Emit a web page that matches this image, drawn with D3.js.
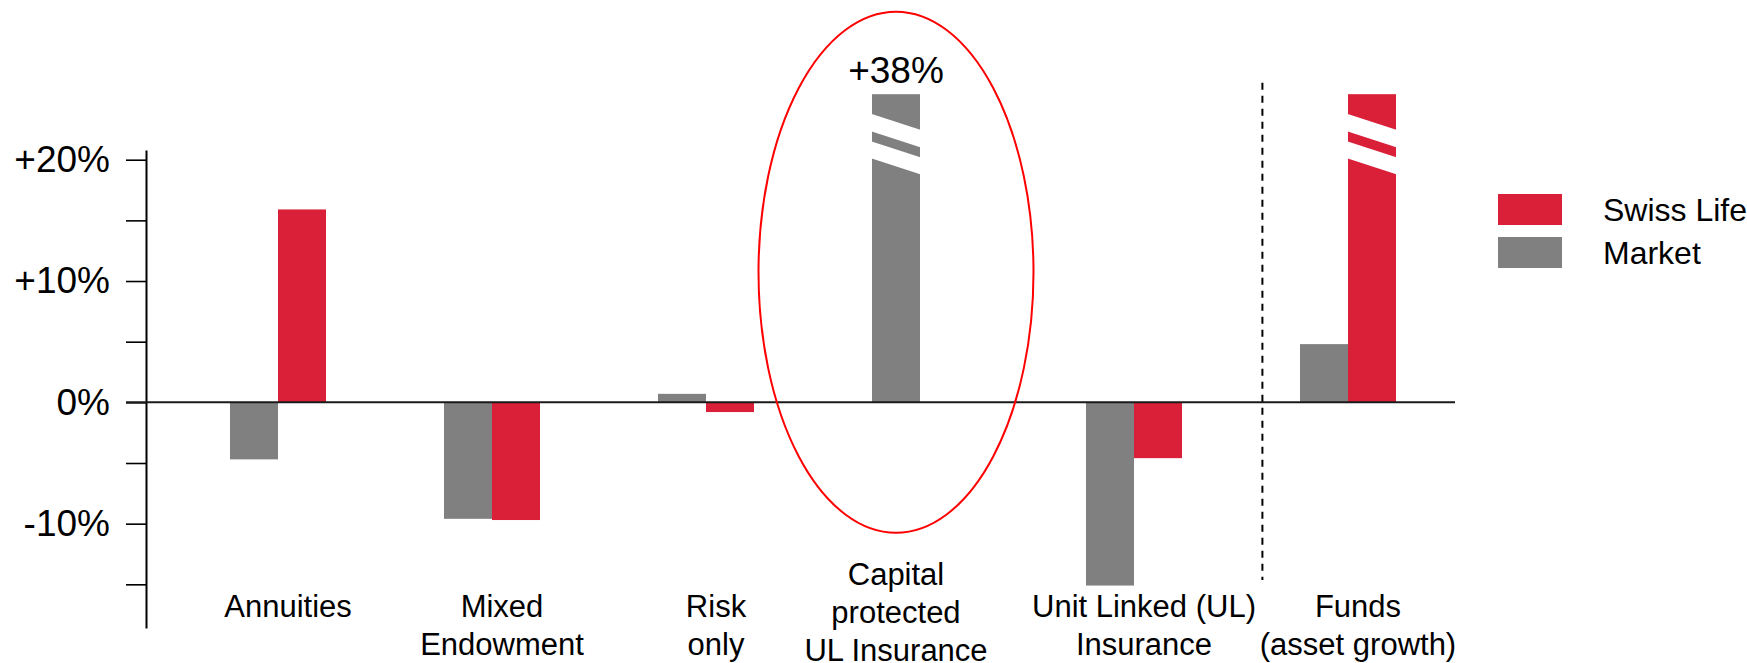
<!DOCTYPE html>
<html>
<head>
<meta charset="utf-8">
<script src="https://cdn.jsdelivr.net/npm/d3@7"></script>
<style>
  body { margin: 0; background: #fff; }
  svg { display: block; font-family: "Liberation Sans", Arial, sans-serif; }
</style>
</head>
<body>
<svg id="chart" width="1747" height="663"></svg>
<script>
// Premium growth by product line, Swiss Life vs. market (%)
const categories = [
  "Annuities",
  "Mixed Endowment",
  "Risk only",
  "Capital protected UL Insurance",
  "Unit Linked (UL) Insurance",
  "Funds (asset growth)"
];
const categoryLines = [
  ["Annuities"],
  ["Mixed", "Endowment"],
  ["Risk", "only"],
  ["Capital", "protected", "UL Insurance"],
  ["Unit Linked (UL)", "Insurance"],
  ["Funds", "(asset growth)"]
];
const seriesNames = ["Market", "Swiss Life"];
const legendOrder = ["Swiss Life", "Market"];
const marketValues    = [-4.7, -9.6, 0.7, 38, -15.1, 4.8];
const swissLifeValues = [15.9, -9.7, -0.8, null, -4.6, 40];   // Funds: off-scale
const marketLabels    = [null, null, null, "+38%", null, null];
const tickValues = [-15, -10, -5, 0, 5, 10, 15, 20];
const tickLabels = { "20": "+20%", "10": "+10%", "0": "0%", "-10": "-10%" };
const breakCap = 25.4;          // bars taller than this are cut with a break
const highlight = "Capital protected UL Insurance";
const highlightSpan = [-10.75, 32.2];
const dividerSpan = [-14.65, 26.35];

const colors = { "Swiss Life": "#da1f38", "Market": "#808080" };

const svg = d3.select("#chart");
svg.append("rect").attr("width", 1747).attr("height", 663).attr("fill", "#fff");

const axisX = 146;
const y = d3.scaleLinear().domain([-18.6, 20.8]).range([628, 150]);
const x = d3.scaleBand().domain(categories).range([171, 1455]);
const barW = 48;
const xs = d3.scaleBand().domain(seriesNames)
  .range([0, x.bandwidth()])
  .paddingInner(0)
  .paddingOuter((x.bandwidth() / barW - 2) / 2);

// y axis
const axis = d3.axisLeft(y)
  .tickValues(tickValues)
  .tickSize(20)
  .tickPadding(16)
  .tickSizeOuter(0)
  .tickFormat(d => tickLabels[String(d)] || "");

const gAxis = svg.append("g")
  .attr("transform", `translate(${axisX},0)`)
  .call(axis);
gAxis.select(".domain").attr("stroke", "#000").attr("stroke-width", 2);
gAxis.selectAll(".tick line").attr("stroke", "#000").attr("stroke-width", 1.6);
gAxis.selectAll(".tick text")
  .attr("fill", "#000")
  .style("font-size", "37px")
  .style("font-family", "'Liberation Sans', Arial, sans-serif");

// rows of values per category
const rows = categories.map((c, i) => ({
  category: c,
  lines: categoryLines[i],
  values: [
    { series: "Market", value: marketValues[i], label: marketLabels[i] },
    { series: "Swiss Life", value: swissLifeValues[i], label: null }
  ].filter(d => d.value !== null)
}));

// bars
const gBars = svg.append("g");
rows.forEach(row => {
  row.values.forEach(d => {
    const drawn = Math.min(d.value, breakCap);
    const x0 = x(row.category) + xs(d.series);
    const w = xs.bandwidth();
    const top = y(Math.max(drawn, 0));
    const h = Math.abs(y(drawn) - y(0));
    gBars.append("rect")
      .attr("x", x0).attr("y", top)
      .attr("width", w).attr("height", h)
      .attr("fill", colors[d.series]);

    if (d.value > breakCap) {
      // two slanted white bands mark the broken scale
      const drop = 0.34 * w;
      [[19.5, 17.5], [47, 17]].forEach(([off, th]) => {
        const pts = [
          [x0 - 1, top + off],
          [x0 + w + 1, top + off + drop],
          [x0 + w + 1, top + off + drop + th],
          [x0 - 1, top + off + th]
        ];
        gBars.append("polygon")
          .attr("points", pts.map(p => p.join(",")).join(" "))
          .attr("fill", "#fff");
      });
    }
    if (d.label) {
      gBars.append("text")
        .attr("x", x0 + w / 2)
        .attr("y", top - 11)
        .attr("text-anchor", "middle")
        .style("font-size", "37px")
        .attr("fill", "#000")
        .text(d.label);
    }
  });
});

// zero line
svg.append("line")
  .attr("x1", axisX - 20).attr("x2", x.range()[1])
  .attr("y1", y(0)).attr("y2", y(0))
  .attr("stroke", "#1a1a1a").attr("stroke-width", 2);

// divider between insurance lines and funds
const divX = x("Funds (asset growth)") + x.step() * 0.1;
svg.append("line")
  .attr("x1", divX).attr("x2", divX)
  .attr("y1", y(dividerSpan[1])).attr("y2", y(dividerSpan[0]))
  .attr("stroke", "#000").attr("stroke-width", 2)
  .attr("stroke-dasharray", "7,6");

// category labels
const gLabels = svg.append("g");
rows.forEach(row => {
  let cx;
  if (row.values.length === 1) {
    cx = x(row.category) + xs(row.values[0].series) + xs.bandwidth() / 2;
  } else {
    cx = x(row.category) + x.bandwidth() / 2 + 10;
  }
  const n = row.lines.length;
  const lineH = 38;
  const first = n > 2 ? 585 : 617;
  const t = gLabels.append("text")
    .attr("text-anchor", "middle")
    .style("font-size", "31px")
    .attr("fill", "#000");
  row.lines.forEach((ln, i) => {
    t.append("tspan").attr("x", cx).attr("y", first + i * lineH).text(ln);
  });
});

// highlight ellipse
const hlBar = rows.find(r => r.category === highlight).values[0];
const hlX = x(highlight) + xs(hlBar.series) + xs.bandwidth() / 2;
svg.append("ellipse")
  .attr("cx", hlX)
  .attr("cy", (y(highlightSpan[0]) + y(highlightSpan[1])) / 2)
  .attr("rx", 137.5)
  .attr("ry", (y(highlightSpan[0]) - y(highlightSpan[1])) / 2)
  .attr("fill", "none")
  .attr("stroke", "#ff0000")
  .attr("stroke-width", 2);

// legend
const legend = svg.append("g").attr("transform", "translate(1498,194)");
legendOrder.forEach((name, i) => {
  const g = legend.append("g").attr("transform", `translate(0,${i * 43})`);
  g.append("rect").attr("width", 64).attr("height", 31).attr("fill", colors[name]);
  g.append("text")
    .attr("x", 105).attr("y", 27)
    .style("font-size", "32px")
    .attr("fill", "#000")
    .text(name);
});
</script>
</body>
</html>
